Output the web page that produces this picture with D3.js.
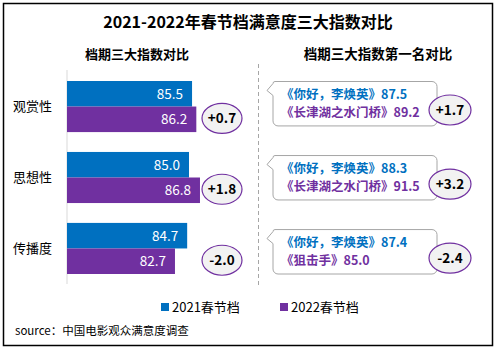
<!DOCTYPE html>
<html>
<head>
<meta charset="utf-8">
<script src="https://cdn.jsdelivr.net/npm/d3@7"></script>
<style>
  body { margin: 0; background: #fff; }
  text { font-family: "Noto Sans CJK SC", "Open Sans", sans-serif; }
</style>
</head>
<body>
<svg width="496" height="350"></svg>
<script>
// data
var categories = ["观赏性", "思想性", "传播度"];
var seriesNames = ["2021春节档", "2022春节档"];
var values2021 = [85.5, 85.0, 84.7];
var values2022 = [86.2, 86.8, 82.7];
var topFilms2021 = ["《你好，李焕英》", "《你好，李焕英》", "《你好，李焕英》"];
var topScores2021 = [87.5, 88.3, 87.4];
var topFilms2022 = ["《长津湖之水门桥》", "《长津湖之水门桥》", "《狙击手》"];
var topScores2022 = [89.2, 91.5, 85.0];

var colors = ["#0070C0", "#7030A0"];
var svg = d3.select("svg");

function fmtDiff(d) {
	var s = Math.abs(d).toFixed(1);
	return (d >= 0 ? "+" : "-") + s;
}

// frame
svg.append("rect")
	.attr("x", 3.5).attr("y", 3.5)
	.attr("width", 489).attr("height", 342)
	.attr("fill", "none").attr("stroke", "#000").attr("stroke-width", 1.5);

svg.append("text")
	.attr("x", 248).attr("y", 28)
	.attr("text-anchor", "middle")
	.attr("font-size", 16).attr("font-weight", "bold")
	.text("2021-2022年春节档满意度三大指数对比");

svg.append("text")
	.attr("x", 137).attr("y", 59)
	.attr("text-anchor", "middle")
	.attr("font-size", 13).attr("font-weight", "bold")
	.text("档期三大指数对比");

svg.append("text")
	.attr("x", 378).attr("y", 59)
	.attr("text-anchor", "middle")
	.attr("font-size", 13.5).attr("font-weight", "bold")
	.text("档期三大指数第一名对比");

// divider
svg.append("line")
	.attr("x1", 258.5).attr("x2", 258.5)
	.attr("y1", 64).attr("y2", 288)
	.attr("stroke", "#a6a6a6").attr("stroke-dasharray", "4,3");

// left panel scales
var y = d3.scaleBand().domain(categories).range([81, 274]).paddingInner(0.28);
var ySub = d3.scaleBand().domain(seriesNames).range([0, y.bandwidth()]);
var x = d3.scaleLinear().domain([65, 100]).range([67, 280.5]);

var rows = categories.map(function(c, i) {
	return { cat: c, v: [values2021[i], values2022[i]] };
});

svg.append("line")
	.attr("x1", 67).attr("x2", 67)
	.attr("y1", 70).attr("y2", 284)
	.attr("stroke", "#d9d9d9");

var yAxis = svg.append("g")
	.attr("transform", "translate(54,0)")
	.call(d3.axisLeft(y).tickSize(0).tickPadding(2));
yAxis.select(".domain").remove();
yAxis.selectAll("text")
	.attr("font-size", 13).attr("fill", "#000")
	.attr("font-family", "Noto Sans CJK SC");

var groups = svg.selectAll(".grp")
	.data(rows)
	.enter().append("g")
	.attr("transform", function(d) { return "translate(0," + y(d.cat) + ")"; });

groups.selectAll("rect")
	.data(function(d) { return d.v; })
	.enter().append("rect")
	.attr("x", x(65))
	.attr("y", function(d, i) { return ySub(seriesNames[i]); })
	.attr("width", function(d) { return x(d) - x(65); })
	.attr("height", ySub.bandwidth())
	.attr("fill", function(d, i) { return colors[i]; });

groups.selectAll(".val")
	.data(function(d) { return d.v; })
	.enter().append("text")
	.attr("x", function(d) { return x(d) - 9; })
	.attr("y", function(d, i) { return ySub(seriesNames[i]) + ySub.bandwidth() / 2 + 5; })
	.attr("text-anchor", "end")
	.attr("font-size", 13.5)
	.attr("font-family", "Open Sans, sans-serif")
	.attr("fill", "#fff")
	.text(function(d) { return d.toFixed(1); });

// left diff bubbles
var lb = groups.append("g")
	.attr("transform", function(d) {
		return "translate(222," + (ySub(seriesNames[1]) + ySub.bandwidth() / 2 - 1) + ")";
	});
lb.append("ellipse")
	.attr("rx", 20).attr("ry", 15)
	.attr("fill", "#f2f2f2").attr("stroke", "#7030A0").attr("stroke-width", 1.2);
lb.append("text")
	.attr("y", 5).attr("text-anchor", "middle")
	.attr("font-size", 13.5).attr("font-weight", "bold")
	.attr("font-family", "Open Sans, sans-serif")
	.text(function(d) { return fmtDiff(d.v[1] - d.v[0]); });

// right panel callouts
var yR = d3.scaleBand().domain(categories).range([81.5, 274]).paddingInner(0.4);
var bx0 = 273, bx1 = 437, rad = 5;

function calloutPath(h) {
	var p = d3.path();
	p.moveTo(bx0 + rad, 0);
	p.lineTo(bx1 - rad, 0);
	p.arcTo(bx1, 0, bx1, rad, rad);
	p.lineTo(bx1, h - rad);
	p.arcTo(bx1, h, bx1 - rad, h, rad);
	p.lineTo(bx0 + rad, h);
	p.arcTo(bx0, h, bx0, h - rad, rad);
	p.lineTo(bx0, 14);
	p.lineTo(bx0 - 6, 9);
	p.lineTo(bx0, 2);
	p.arcTo(bx0, 0, bx0 + rad, 0, 2);
	p.closePath();
	return p.toString();
}

var rrows = categories.map(function(c, i) {
	return {
		cat: c,
		f1: topFilms2021[i], s1: topScores2021[i],
		f2: topFilms2022[i], s2: topScores2022[i]
	};
});

var cg = svg.selectAll(".call")
	.data(rrows)
	.enter().append("g")
	.attr("transform", function(d) { return "translate(0," + yR(d.cat) + ")"; });

cg.append("path")
	.attr("d", calloutPath(yR.bandwidth()))
	.attr("fill", "#fff").attr("stroke", "#a6a6a6").attr("stroke-width", 1);

cg.append("text")
	.attr("x", 281).attr("y", 17)
	.attr("font-size", 12.5).attr("font-weight", "bold")
	.attr("fill", colors[0])
	.text(function(d) { return d.f1 + d.s1.toFixed(1); });

cg.append("text")
	.attr("x", 281).attr("y", 35.2)
	.attr("font-size", 12.5).attr("font-weight", "bold")
	.attr("fill", colors[1])
	.text(function(d) { return d.f2 + d.s2.toFixed(1); });

var rb = cg.append("g").attr("transform", "translate(450,28.5)");
rb.append("ellipse")
	.attr("rx", 21).attr("ry", 15)
	.attr("fill", "#f2f2f2").attr("stroke", "#7030A0").attr("stroke-width", 1.2);
rb.append("text")
	.attr("y", 5).attr("text-anchor", "middle")
	.attr("font-size", 13.5).attr("font-weight", "bold")
	.attr("font-family", "Open Sans, sans-serif")
	.text(function(d) { return fmtDiff(d.s2 - d.s1); });

// legend
var legX = [161, 280];
var leg = svg.selectAll(".leg")
	.data(seriesNames)
	.enter().append("g")
	.attr("transform", function(d, i) { return "translate(" + legX[i] + ",303)"; });
leg.append("rect")
	.attr("width", 8).attr("height", 8)
	.attr("fill", function(d, i) { return colors[i]; });
leg.append("text")
	.attr("x", 11).attr("y", 9)
	.attr("font-size", 13)
	.text(function(d) { return d; });

svg.append("text")
	.attr("x", 15).attr("y", 335)
	.attr("font-size", 11.5)
	.text("source：中国电影观众满意度调查");
</script>
</body>
</html>
